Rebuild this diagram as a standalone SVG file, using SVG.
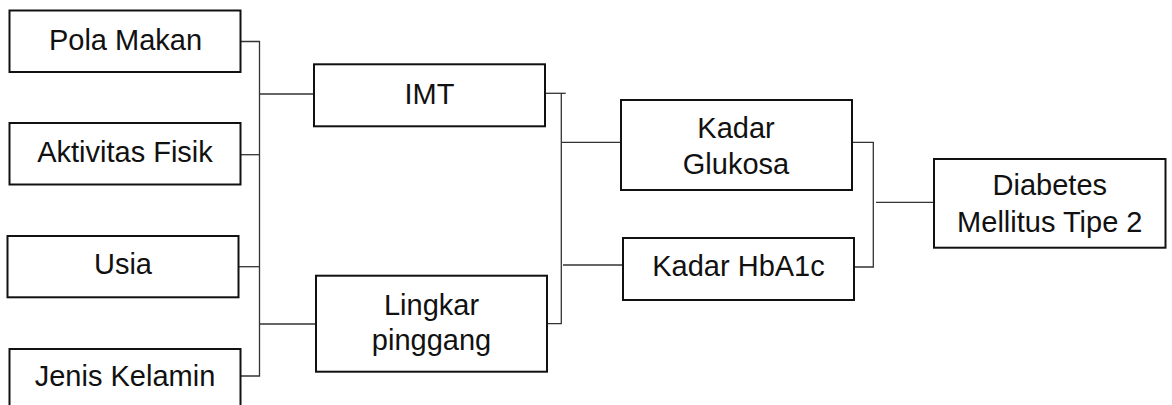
<svg xmlns="http://www.w3.org/2000/svg" width="1172" height="405" viewBox="0 0 1172 405">
  <style>
    .box { fill: #ffffff; stroke: #111111; stroke-width: 2; }
    .lbl { font-family: "Liberation Sans", Arial, sans-serif; font-size: 29px; fill: #111111; text-anchor: middle; }
    .wire { fill: none; stroke: #333333; stroke-width: 1.3; }
  </style>
  <rect width="1172" height="405" fill="#ffffff"/>

  <!-- connectors -->
  <g id="connectors">
    <!-- left bus: four factors into IMT and waist circumference -->
    <path class="wire" d="M240.5,41.5 H259.5 V376 H240.5"/>
    <path class="wire" d="M240.5,154.7 H259.5"/>
    <path class="wire" d="M238.5,266.7 H259.5"/>
    <path class="wire" d="M259.5,94 H314"/>
    <path class="wire" d="M259.5,324 H316"/>
    <!-- middle bus: IMT and waist circumference into the two lab values -->
    <path class="wire" d="M545,93.3 H565.7"/>
    <path class="wire" d="M561.3,93.3 V323.7 H547"/>
    <path class="wire" d="M561.3,142.3 H621"/>
    <path class="wire" d="M563,265 H623"/>
    <!-- right bus: lab values into the outcome -->
    <path class="wire" d="M852,142.3 H873.3 V267 H854"/>
    <path class="wire" d="M876,202.3 H934"/>
  </g>

  <g id="pola-makan">
    <rect class="box" x="9.5" y="10.5" width="231" height="61.5"/>
    <text class="lbl" x="125.5" y="49.5">Pola Makan</text>
  </g>
  <g id="aktivitas-fisik">
    <rect class="box" x="9.5" y="123" width="231" height="61.5"/>
    <text class="lbl" x="125" y="161.5">Aktivitas Fisik</text>
  </g>
  <g id="usia">
    <rect class="box" x="7.5" y="236" width="231" height="61.3"/>
    <text class="lbl" x="123" y="273.5">Usia</text>
  </g>
  <g id="jenis-kelamin">
    <rect class="box" x="9.5" y="349" width="231" height="62"/>
    <text class="lbl" x="125" y="385.5">Jenis Kelamin</text>
  </g>

  <g id="imt">
    <rect class="box" x="314" y="64.3" width="231" height="62"/>
    <text class="lbl" x="429.5" y="103.5">IMT</text>
  </g>
  <g id="lingkar-pinggang">
    <rect class="box" x="316" y="275.7" width="231" height="96"/>
    <text class="lbl" x="431.5" y="314.5">Lingkar</text>
    <text class="lbl" x="431.5" y="350.3">pinggang</text>
  </g>

  <g id="kadar-glukosa">
    <rect class="box" x="621" y="100" width="231" height="90"/>
    <text class="lbl" x="736" y="137.5">Kadar</text>
    <text class="lbl" x="736" y="174">Glukosa</text>
  </g>
  <g id="kadar-hba1c">
    <rect class="box" x="623" y="238" width="231" height="62"/>
    <text class="lbl" x="738.5" y="275.5">Kadar HbA1c</text>
  </g>

  <g id="diabetes">
    <rect class="box" x="934" y="159" width="231.5" height="88.7"/>
    <text class="lbl" x="1049.8" y="195.3">Diabetes</text>
    <text class="lbl" x="1049.8" y="232.3">Mellitus Tipe 2</text>
  </g>
</svg>
